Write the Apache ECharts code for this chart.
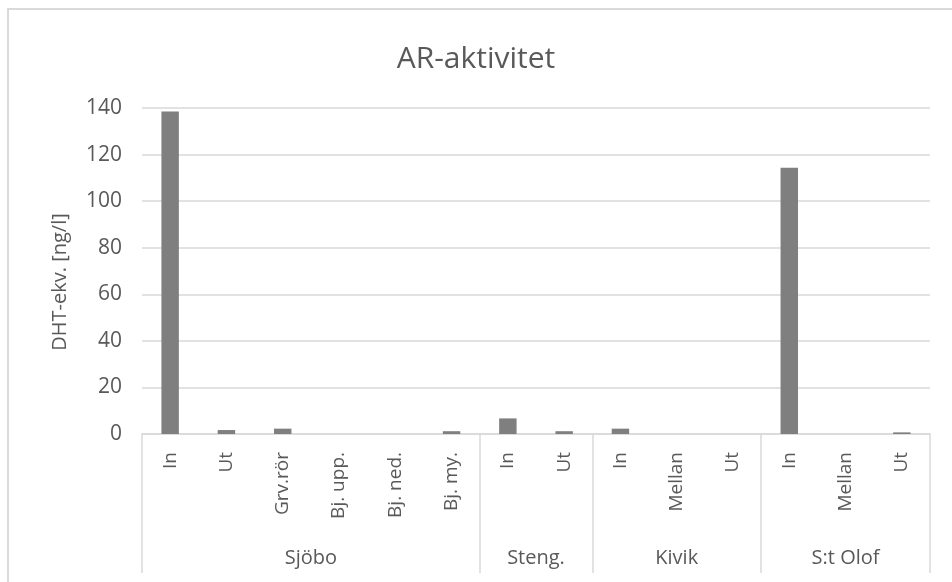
<!DOCTYPE html>
<html>
<head>
<meta charset="utf-8">
<script src="https://cdn.jsdelivr.net/npm/echarts@6/dist/echarts.min.js"></script>
<style>
  html, body { margin: 0; padding: 0; background: #fff; }
  #chart { width: 952px; height: 582px; }
</style>
</head>
<body>
<div id="chart"></div>
<script>
// Sampling points, grouped by site
const categories = ['In', 'Ut', 'Grv.rör', 'Bj. upp.', 'Bj. ned.', 'Bj. my.',
                    'In', 'Ut',
                    'In', 'Mellan', 'Ut',
                    'In', 'Mellan', 'Ut'];
// AR activity, DHT equivalents in ng/l
const values = [138.5, 1.7, 2.3, 0, 0, 1.2,
                6.7, 1.2,
                2.3, 0, 0,
                114.3, 0, 0.7];
// Site groups: label, first category index, number of categories
const groupNames = ['Sjöbo', 'Steng.', 'Kivik', 'S:t Olof'];
const groupStarts = [0, 6, 8, 11];
const groupSizes = [6, 2, 3, 3];
const yTicks = [0, 20, 40, 60, 80, 100, 120, 140];

const textColor = '#595959';
const lineColor = '#d9d9d9';
const font = '"Open Sans", "Noto Sans", sans-serif';

// group label centres in category-band units
const groupCentres = groupStarts.map((s, i) => s + groupSizes[i] / 2);

const chart = echarts.init(document.getElementById('chart'));
chart.setOption({
  animation: false,
  backgroundColor: '#fff',
  title: {
    text: 'AR-aktivitet',
    left: 'center',
    top: 39,
    textStyle: { color: textColor, fontFamily: font, fontSize: 30, fontWeight: 'normal' }
  },
  graphic: [{
    type: 'rect',
    shape: { x: 8, y: 9, width: 1200, height: 800 },
    style: { fill: 'none', stroke: lineColor, lineWidth: 2 },
    silent: true
  }],
  grid: { left: 142, right: 22, top: 108, bottom: 148 },
  xAxis: [{
    type: 'category',
    data: categories,
    axisLine: { lineStyle: { color: lineColor, width: 1.5 } },
    axisTick: {
      show: true,
      length: 139,
      interval: (idx) => groupStarts.indexOf(idx) >= 0,
      lineStyle: { color: lineColor, width: 1.5 }
    },
    axisLabel: {
      interval: 0,
      rotate: 90,
      margin: 18,
      color: textColor,
      fontFamily: font,
      fontSize: 19
    }
  }, {
    type: 'value',
    position: 'bottom',
    min: 0,
    max: categories.length,
    interval: 0.5,
    offset: 106,
    axisLine: { show: false },
    axisTick: { show: false },
    splitLine: { show: false },
    axisLabel: {
      color: textColor,
      fontFamily: font,
      fontSize: 20,
      margin: 8,
      showMinLabel: true,
      showMaxLabel: true,
      formatter: (v) => {
        const i = groupCentres.findIndex(c => Math.abs(c - v) < 1e-6);
        return i >= 0 ? groupNames[i] : '';
      }
    }
  }],
  yAxis: {
    type: 'value',
    min: yTicks[0],
    max: yTicks[yTicks.length - 1],
    interval: yTicks[1] - yTicks[0],
    name: 'DHT-ekv. [ng/l]',
    nameLocation: 'middle',
    nameGap: 72,
    nameTextStyle: { color: textColor, fontFamily: font, fontSize: 20, padding: [0, 22, 0, 0] },
    axisLine: { show: false },
    axisTick: { show: false },
    splitLine: { lineStyle: { color: lineColor, width: 1.5 } },
    axisLabel: { color: textColor, fontFamily: font, fontSize: 21, margin: 20 }
  },
  series: [{
    type: 'bar',
    xAxisIndex: 0,
    data: values,
    barWidth: '31%',
    itemStyle: { color: '#7f7f7f' }
  }]
});
</script>
</body>
</html>
